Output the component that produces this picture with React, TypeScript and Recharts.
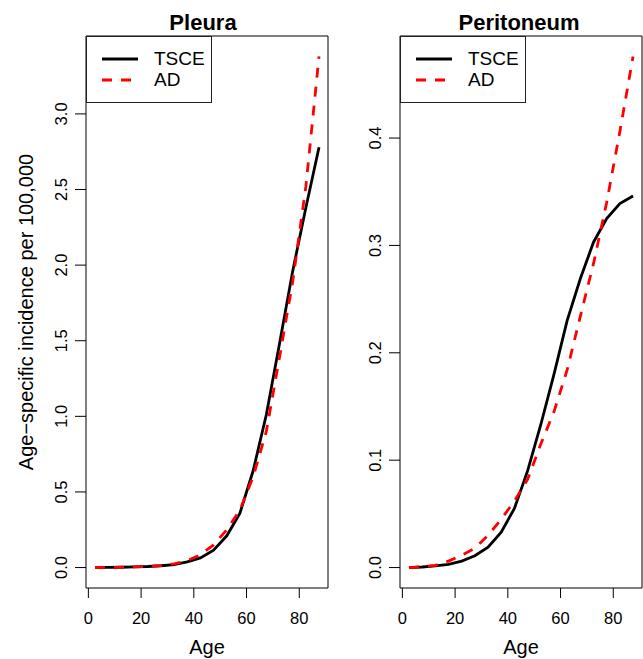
import { Legend, Line, LineChart, ReferenceArea, XAxis, YAxis } from "recharts";

const AGES = [2.5, 7.5, 12.5, 17.5, 22.5, 27.5, 32.5, 37.5, 42.5, 47.5, 52.5, 57.5, 62.5, 67.5, 72.5, 77.5, 82.5, 87.5];

const PLEURA_TSCE = [0, 0.001, 0.002, 0.004, 0.007, 0.012, 0.02, 0.037, 0.064, 0.115, 0.21, 0.36, 0.64, 1.01, 1.48, 1.96, 2.38, 2.78];
const PLEURA_AD = [0, 0.001, 0.002, 0.004, 0.007, 0.013, 0.025, 0.045, 0.085, 0.15, 0.25, 0.38, 0.6, 0.9, 1.39, 1.89, 2.52, 3.38];

const PERITONEUM_TSCE = [0, 0.0005, 0.0015, 0.003, 0.006, 0.011, 0.019, 0.033, 0.055, 0.09, 0.133, 0.18, 0.23, 0.269, 0.303, 0.325, 0.339, 0.346];
const PERITONEUM_AD = [0, 0.0007, 0.002, 0.006, 0.0115, 0.018, 0.03, 0.045, 0.062, 0.082, 0.115, 0.145, 0.184, 0.234, 0.283, 0.34, 0.406, 0.476];

const AGE_TICKS = [0, 20, 40, 60, 80];
const PLEURA_TICKS = [0, 0.5, 1, 1.5, 2, 2.5, 3];
const PERITONEUM_TICKS = [0, 0.1, 0.2, 0.3, 0.4];

const SERIES = [
  { key: "tsce", name: "TSCE", color: "#000000", dash: undefined as string | undefined },
  { key: "ad", name: "AD", color: "#ff0000", dash: "10 9" },
];

const FONT = '"Liberation Sans", Arial, Helvetica, sans-serif';

// R-style axis range: data range padded by 4% on each side
function padRange(values: number[]): [number, number] {
  const lo = Math.min(...values);
  const hi = Math.max(...values);
  const pad = (hi - lo) * 0.04;
  return [lo - pad, hi + pad];
}

function XTick({ x, y, payload }: any) {
  return (
    <text x={x} y={y} dy="0.71em" textAnchor="middle" fontSize={16.5} fontFamily={FONT} fill="#000">
      {payload.value}
    </text>
  );
}

function YTick({ x, y, payload }: any) {
  return (
    <text
      x={x}
      y={y}
      transform={`rotate(-90, ${x}, ${y})`}
      textAnchor="middle"
      fontSize={16.5}
      fontFamily={FONT}
      fill="#000"
    >
      {Number(payload.value).toFixed(1)}
    </text>
  );
}

function LegendBox() {
  return (
    <div
      style={{
        width: 126,
        height: 67,
        boxSizing: "border-box",
        border: "1px solid #222",
        background: "#fff",
        position: "relative",
        fontFamily: FONT,
        fontSize: 19,
        color: "#000",
      }}
    >
      {SERIES.map((s, i) => (
        <div
          key={s.key}
          style={{ position: "absolute", left: 0, top: 10 + i * 21.4, height: 24, display: "flex", alignItems: "center" }}
        >
          <svg width={52} height={24} style={{ display: "block" }}>
            <line x1={15} x2={51} y1={12} y2={12} stroke={s.color} strokeWidth={2.8} strokeDasharray={s.dash} />
          </svg>
          <span style={{ marginLeft: 15, lineHeight: "24px" }}>{s.name}</span>
        </div>
      ))}
    </div>
  );
}

type PanelProps = {
  title: string;
  tsce: number[];
  ad: number[];
  yTicks: number[];
  left: number;
  width: number;
  yAxisWidth: number;
  marginRight: number;
  titleX: number;
  yLabel?: string;
};

function Panel({ title, tsce, ad, yTicks, left, width, yAxisWidth, marginRight, titleX, yLabel }: PanelProps) {
  const rows = AGES.map((age, i) => ({ age, tsce: tsce[i], ad: ad[i] }));
  const xDomain = padRange(AGES);
  const yDomain = padRange([...tsce, ...ad]);

  return (
    <div style={{ position: "absolute", left, top: 0 }}>
      <LineChart width={width} height={659} data={rows} margin={{ top: 36, right: marginRight, bottom: 0, left: 0 }}>
        <XAxis
          dataKey="age"
          type="number"
          domain={xDomain}
          allowDataOverflow
          ticks={AGE_TICKS}
          interval={0}
          height={71}
          axisLine={false}
          tickSize={10}
          tickMargin={14}
          stroke="#000"
          tick={<XTick />}
          label={{
            content: ({ viewBox }: any) => (
              <text
                x={viewBox.x + viewBox.width / 2}
                y={viewBox.y + 66}
                textAnchor="middle"
                fontSize={20}
                fontFamily={FONT}
                fill="#000"
              >
                Age
              </text>
            ),
          }}
        />
        <YAxis
          type="number"
          domain={yDomain}
          allowDataOverflow
          ticks={yTicks}
          interval={0}
          width={yAxisWidth}
          axisLine={false}
          tickSize={11}
          tickMargin={8}
          stroke="#000"
          tick={<YTick />}
          label={
            yLabel
              ? {
                  content: ({ viewBox }: any) => {
                    const cx = viewBox.x + 33;
                    const cy = viewBox.y + viewBox.height / 2;
                    return (
                      <text
                        x={cx}
                        y={cy}
                        transform={`rotate(-90, ${cx}, ${cy})`}
                        textAnchor="middle"
                        fontSize={20}
                        fontFamily={FONT}
                        fill="#000"
                      >
                        {yLabel}
                      </text>
                    );
                  },
                }
              : undefined
          }
        />
        <ReferenceArea
          x1={xDomain[0]}
          x2={xDomain[1]}
          y1={yDomain[0]}
          y2={yDomain[1]}
          fill="none"
          stroke="#000"
          strokeWidth={1}
          ifOverflow="visible"
        />
        {SERIES.map((s) => (
          <Line
            key={s.key}
            dataKey={s.key}
            name={s.name}
            type="linear"
            stroke={s.color}
            strokeWidth={2.8}
            strokeDasharray={s.dash}
            dot={false}
            activeDot={false}
            isAnimationActive={false}
          />
        ))}
        <Legend
          layout="horizontal"
          verticalAlign="middle"
          align="center"
          wrapperStyle={{ left: yAxisWidth, top: 36, width: "auto" }}
          content={() => <LegendBox />}
        />
        <text x={titleX} y={30} textAnchor="middle" fontSize={22} fontWeight="bold" fontFamily={FONT} fill="#000">
          {title}
        </text>
      </LineChart>
    </div>
  );
}

export default function App() {
  return (
    <div style={{ position: "absolute", left: 0, top: 0, width: 643, height: 659, background: "#fff" }}>
      <Panel
        title="Pleura"
        tsce={PLEURA_TSCE}
        ad={PLEURA_AD}
        yTicks={PLEURA_TICKS}
        left={0}
        width={335}
        yAxisWidth={86}
        marginRight={7}
        titleX={203}
        yLabel="Age−specific incidence per 100,000"
      />
      <Panel
        title="Peritoneum"
        tsce={PERITONEUM_TSCE}
        ad={PERITONEUM_AD}
        yTicks={PERITONEUM_TICKS}
        left={321}
        width={322}
        yAxisWidth={79}
        marginRight={1}
        titleX={198}
      />
    </div>
  );
}
